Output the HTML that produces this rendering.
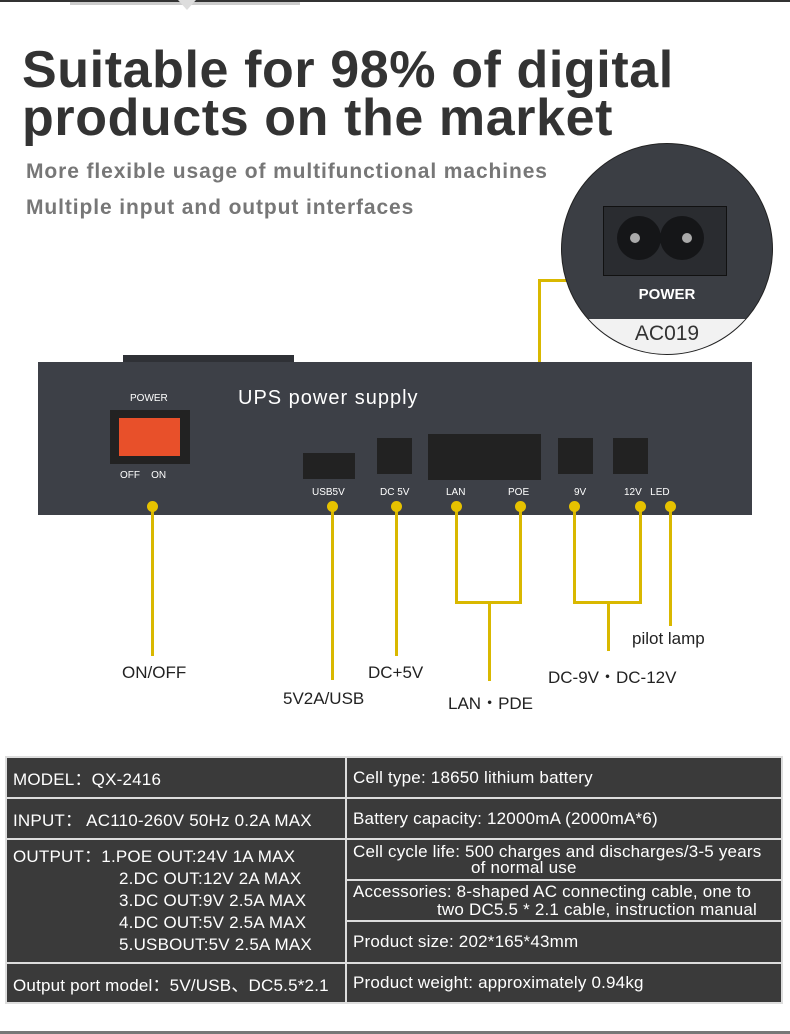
<!DOCTYPE html>
<html><head><meta charset="utf-8"><style>
body{margin:0;width:790px;height:1034px;background:#fff;position:relative;overflow:hidden;font-family:"Liberation Sans",sans-serif}
.a{position:absolute}
.t{font-size:52px;font-weight:bold;color:#333;left:22px;line-height:48px;letter-spacing:0.6px}
.s{font-size:21px;font-weight:bold;color:#777;left:26px;letter-spacing:0.9px}
.y{background:#d9b800;position:absolute}
.dot{position:absolute;width:11px;height:11px;border-radius:50%;background:#e6c200}
.lb{position:absolute;font-size:17px;color:#222}
.w{color:#fff;position:absolute;font-size:10px}
table{position:absolute;left:5px;top:756px;width:778px;border-collapse:collapse;background:#3a3a3a;color:#fff;font-size:17px;letter-spacing:0.2px}
td{border:2px solid #ddd;padding:0 6px;height:38px;vertical-align:middle}
</style></head><body>
<div class="a" style="left:0;top:0;width:790px;height:2px;background:#333"></div>
<div class="a" style="left:70px;top:2px;width:230px;height:3px;background:#ccc"></div>
<div class="a" style="left:178px;top:0;width:0;height:0;border-left:9px solid transparent;border-right:9px solid transparent;border-top:10px solid #ddd"></div>
<div class="a t" style="top:46px">Suitable for 98% of digital</div>
<div class="a t" style="top:94px">products on the market</div>
<div class="a s" style="top:160px">More flexible usage of multifunctional machines</div>
<div class="a s" style="top:196px">Multiple input and output interfaces</div>

<div class="y" style="left:538px;top:279px;width:3px;height:84px"></div>
<div class="y" style="left:538px;top:279px;width:30px;height:3px"></div>
<div class="a" style="left:561px;top:143px;width:210px;height:210px;border-radius:50%;background:#3b3e44;overflow:hidden;border:1px solid #222">
 <div class="a" style="left:41px;top:62px;width:122px;height:68px;background:#2a2c30;border:1px solid #111"></div>
 <div class="a" style="left:55px;top:72px;width:44px;height:44px;border-radius:50%;background:#151618"></div>
 <div class="a" style="left:98px;top:72px;width:44px;height:44px;border-radius:50%;background:#151618"></div>
 <div class="a" style="left:68px;top:89px;width:10px;height:10px;border-radius:50%;background:#aaa"></div>
 <div class="a" style="left:120px;top:89px;width:10px;height:10px;border-radius:50%;background:#aaa"></div>
 <div class="a" style="left:0;top:142px;width:210px;text-align:center;color:#fff;font-weight:bold;font-size:15px">POWER</div>
 <div class="a" style="left:0;top:175px;width:210px;height:40px;background:#f2f2f2;text-align:center;color:#333;font-size:21px;line-height:30px">AC019</div>
</div>

<div class="a" style="left:123px;top:355px;width:171px;height:8px;background:#2f3136"></div>
<div class="a" style="left:38px;top:362px;width:714px;height:153px;background:#3d4047"></div>
<div class="w" style="left:130px;top:393px">POWER</div>
<div class="a" style="left:110px;top:410px;width:80px;height:54px;background:#222"></div>
<div class="a" style="left:119px;top:418px;width:61px;height:38px;background:#e8502a"></div>
<div class="w" style="left:120px;top:470px">OFF&nbsp;&nbsp;&nbsp;&nbsp;ON</div>
<div class="a" style="left:238px;top:387px;color:#fff;font-size:20px;letter-spacing:1px">UPS power supply</div>
<div class="a" style="left:303px;top:453px;width:52px;height:26px;background:#222"></div>
<div class="a" style="left:377px;top:438px;width:35px;height:36px;background:#222"></div>
<div class="a" style="left:428px;top:434px;width:113px;height:46px;background:#222"></div>
<div class="a" style="left:558px;top:438px;width:35px;height:36px;background:#222"></div>
<div class="a" style="left:613px;top:438px;width:35px;height:36px;background:#222"></div>
<div class="w" style="left:312px;top:487px">USB5V</div>
<div class="w" style="left:380px;top:487px">DC 5V</div>
<div class="w" style="left:446px;top:487px">LAN</div>
<div class="w" style="left:508px;top:487px">POE</div>
<div class="w" style="left:574px;top:487px">9V</div>
<div class="w" style="left:624px;top:487px">12V&nbsp;&nbsp;&nbsp;LED</div>

<div class="y" style="left:151px;top:506px;width:3px;height:150px"></div>
<div class="y" style="left:331px;top:506px;width:3px;height:174px"></div>
<div class="y" style="left:395px;top:506px;width:3px;height:150px"></div>
<div class="y" style="left:455px;top:506px;width:3px;height:98px"></div>
<div class="y" style="left:519px;top:506px;width:3px;height:98px"></div>
<div class="y" style="left:455px;top:601px;width:67px;height:3px"></div>
<div class="y" style="left:488px;top:601px;width:3px;height:80px"></div>
<div class="y" style="left:573px;top:506px;width:3px;height:98px"></div>
<div class="y" style="left:639px;top:506px;width:3px;height:98px"></div>
<div class="y" style="left:573px;top:601px;width:69px;height:3px"></div>
<div class="y" style="left:607px;top:601px;width:3px;height:50px"></div>
<div class="y" style="left:669px;top:506px;width:3px;height:120px"></div>
<div class="dot" style="left:147px;top:501px"></div>
<div class="dot" style="left:327px;top:501px"></div>
<div class="dot" style="left:391px;top:501px"></div>
<div class="dot" style="left:451px;top:501px"></div>
<div class="dot" style="left:515px;top:501px"></div>
<div class="dot" style="left:569px;top:501px"></div>
<div class="dot" style="left:635px;top:501px"></div>
<div class="dot" style="left:665px;top:501px"></div>

<div class="lb" style="left:122px;top:663px">ON/OFF</div>
<div class="lb" style="left:283px;top:689px">5V2A/USB</div>
<div class="lb" style="left:368px;top:663px">DC+5V</div>
<div class="lb" style="left:448px;top:689px">LAN・PDE</div>
<div class="lb" style="left:548px;top:663px">DC-9V・DC-12V</div>
<div class="lb" style="left:632px;top:629px">pilot lamp</div>

<table>
<tr><td style="width:326px;height:39px">MODEL：QX-2416</td><td>Cell type: 18650 lithium battery</td></tr>
<tr><td style="height:39px">INPUT： AC110-260V 50Hz 0.2A MAX</td><td>Battery capacity: 12000mA (2000mA*6)</td></tr>
<tr><td rowspan="3" style="line-height:22px">OUTPUT：1.POE OUT:24V 1A MAX<br><span style="padding-left:106px">2.DC OUT:12V 2A MAX</span><br><span style="padding-left:106px">3.DC OUT:9V 2.5A MAX</span><br><span style="padding-left:106px">4.DC OUT:5V 2.5A MAX</span><br><span style="padding-left:106px">5.USBOUT:5V 2.5A MAX</span></td><td style="line-height:16px;height:39px">Cell cycle life: 500 charges and discharges/3-5 years<br><span style="padding-left:118px">of normal use</span></td></tr>
<tr><td style="line-height:18px;height:39px">Accessories: 8-shaped AC connecting cable, one to<br><span style="padding-left:84px">two DC5.5 * 2.1 cable, instruction manual</span></td></tr>
<tr><td style="height:40px">Product size: 202*165*43mm</td></tr>
<tr><td style="height:38px">Output port model：5V/USB、DC5.5*2.1</td><td>Product weight: approximately 0.94kg</td></tr>
</table>
<div class="a" style="left:0;top:1031px;width:790px;height:3px;background:#777"></div>
</body></html>
